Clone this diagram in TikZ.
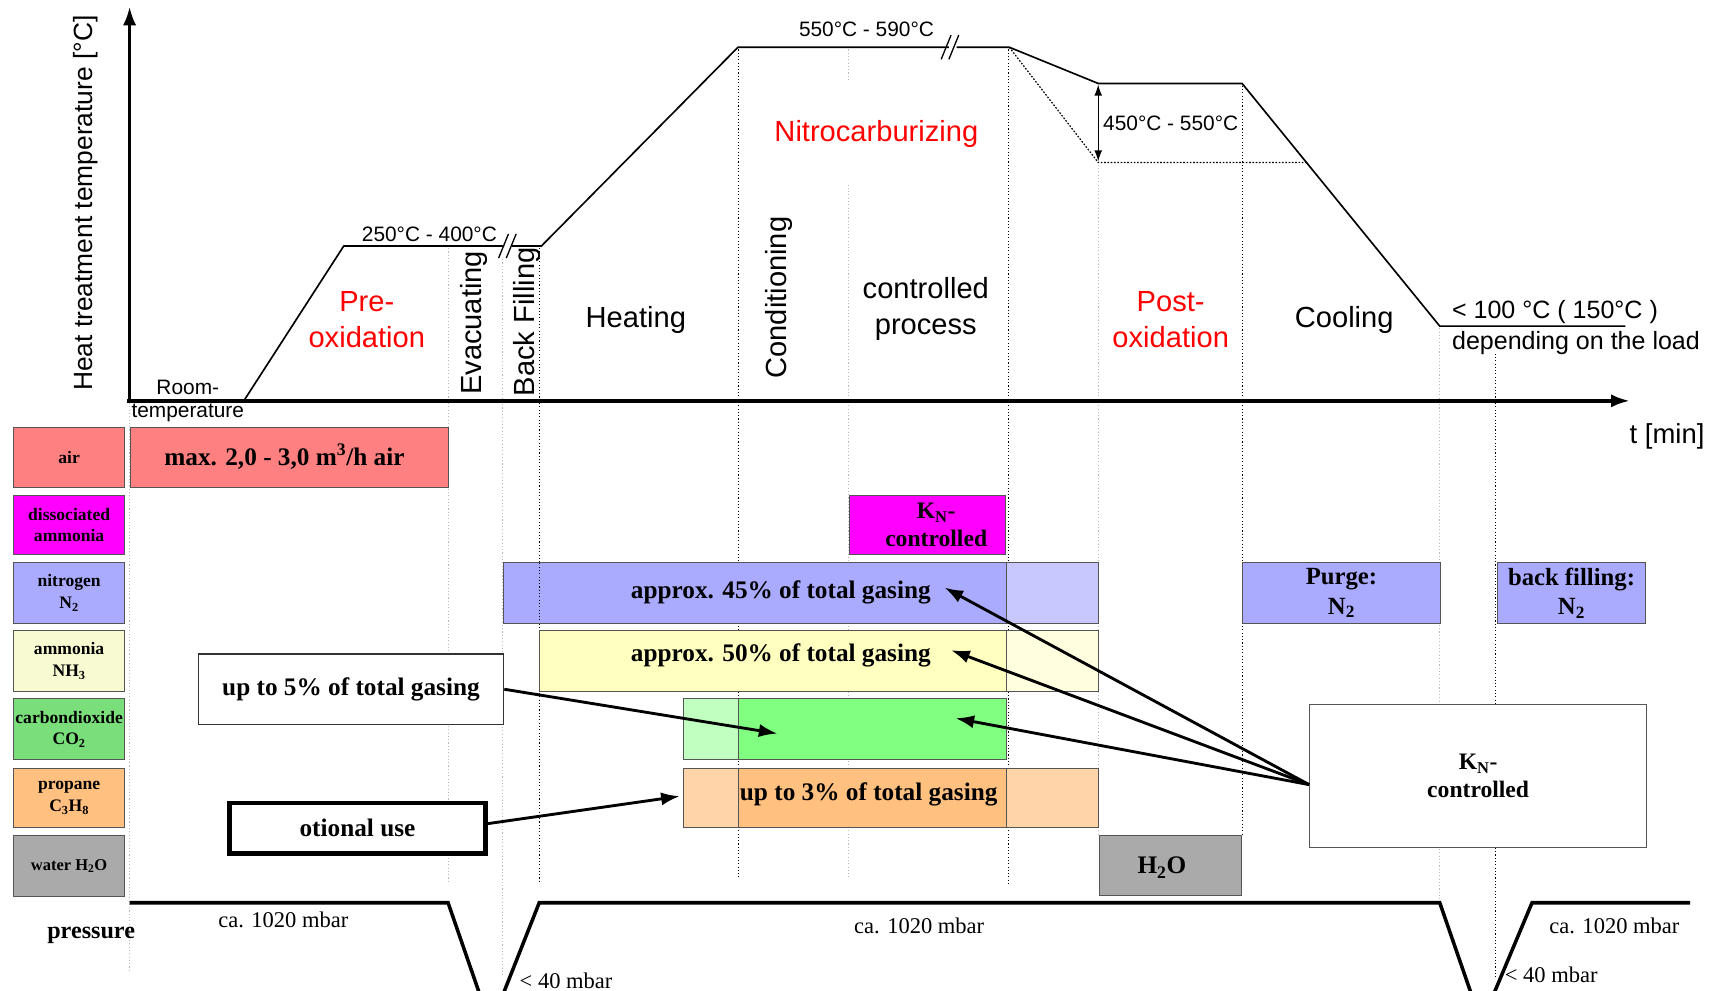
\documentclass[tikz,border=0pt]{standalone}
\usepackage{fontspec}
\setmainfont{Liberation Serif}
\newfontfamily\arialf{Liberation Sans}
\usetikzlibrary{arrows.meta}

\definecolor{airred}{RGB}{255,128,128}
\definecolor{magen}{RGB}{255,0,255}
\definecolor{nitro}{RGB}{170,170,255}
\definecolor{nitrolt}{RGB}{200,200,255}
\definecolor{ammlab}{RGB}{248,250,210}
\definecolor{amm}{RGB}{255,255,192}
\definecolor{ammlt}{RGB}{255,255,224}
\definecolor{co2lab}{RGB}{122,222,122}
\definecolor{co2}{RGB}{128,255,128}
\definecolor{co2lt}{RGB}{192,255,192}
\definecolor{prop}{RGB}{255,192,128}
\definecolor{proplt}{RGB}{255,212,168}
\definecolor{water}{RGB}{170,170,170}
\definecolor{edge}{RGB}{85,85,85}
\definecolor{phred}{RGB}{255,0,0}

\newcommand\fsz[2]{\fontsize{#1}{#2}\selectfont}

\begin{document}
\begin{tikzpicture}[x=1pt,y=-1pt,
  phase/.style={font=\arialf\fsz{26.5}{33}, align=center, inner sep=0pt},
  redphase/.style={phase, text=phred},
  templab/.style={font=\arialf\fsz{19}{23}, inner sep=0pt},
  gaslab/.style={font=\bfseries\fsz{16}{19.5}, align=center},
  bartext/.style={font=\bfseries\fsz{23}{27}, inner sep=0pt},
  tagtext/.style={font=\bfseries\fsz{21.5}{25}, align=center},
  gbox/.style={draw=edge, line width=0.9pt, inner sep=0pt, anchor=north west},
  darkdot/.style={black, line width=0.9pt, dash pattern=on 1pt off 2pt},
  lightdot/.style={gray!55, line width=0.9pt, dash pattern=on 1pt off 2pt},
  axisline/.style={line width=3pt, -{Latex[length=17pt,width=12pt]}},
  curve/.style={line width=1.5pt},
  press/.style={line width=3.2pt},
  pointer/.style={line width=2.6pt, -{Latex[length=17pt,width=12pt]}},
  mbar/.style={font=\fsz{20.5}{24}, inner sep=0pt}]

\clip (0,0) rectangle (1568,902);
\fill[white] (0,0) rectangle (1568,902);

% ---- phase boundaries
\draw[lightdot] (118,367) -- (118,885);
\draw[lightdot] (408,226) -- (408,805);
\draw[lightdot] (458,236) -- (458,890);
\draw[darkdot]  (491,226) -- (491,805);
\draw[darkdot]  (672,45)  -- (672,800);
\draw[lightdot] (773,45)  -- (773,75);
\draw[lightdot] (773,168) -- (773,800);
\draw[darkdot]  (918,45)  -- (918,805);
\draw[lightdot] (1000,150) -- (1000,760);
\draw[darkdot]  (1131,78) -- (1131,760);
\draw[lightdot] (1311,299) -- (1311,820);
\draw[darkdot]  (1362,322) -- (1362,890);

% ---- axes
\draw[axisline] (118,367) -- (118,6);
\draw[axisline] (116,365) -- (1484,365);
\node[font=\arialf\fsz{24}{28}, rotate=90, inner sep=0pt] (ylab) at (78,185) {Heat treatment temperature [°C]};
\node[font=\arialf\fsz{25}{29}, inner sep=0pt] (tlab) at (1518,397) {t [min]};

% ---- temperature profile
\draw[curve] (222,365) -- (313,224) -- (459,224);
\draw[curve] (466,224) -- (493,224) -- (672,43) -- (864,43);
\draw[curve] (871,43) -- (919,43) -- (1000,76) -- (1131,76) -- (1311,297) -- (1480,297);
\draw[line width=1.2pt] (454,235) -- (463,213) (461,235) -- (470,213);
\draw[line width=1.2pt] (857,54) -- (866,32) (864,54) -- (873,32);
\draw[line width=1.1pt, dash pattern=on 1.5pt off 1.5pt] (919,43) -- (1000,148) -- (1190,148);
\draw[line width=1pt, {Latex[length=10pt,width=7pt]}-{Latex[length=10pt,width=7pt]}] (1000,77) -- (1000,147);

\node[templab] (troom1) at (171,353) {Room-};
\node[templab] (troom2) at (171,376) {temperature};
\node[templab] (t250) at (391,213) {250°C - 400°C};
\node[templab] (t550) at (789,27) {550°C - 590°C};
\node[templab] (t450) at (1066,112) {450°C - 550°C};
\node[font=\arialf\fsz{22.8}{28}, inner sep=0pt, anchor=west] (t100) at (1322,284) {< 100 °C ( 150°C )};
\node[font=\arialf\fsz{22.8}{28}, inner sep=0pt, anchor=west] (tload) at (1322,312) {depending on the load};

% ---- phase names
\node[redphase] (nitro) at (798,122) {Nitrocarburizing};
\node[redphase] (preox) at (334,291) {Pre-\\oxidation};
\node[phase, rotate=90] (evac) at (432,294) {Evacuating};
\node[phase, rotate=90] (bfl) at (480,293) {Back Filling};
\node[phase] (heat) at (579,291) {Heating};
\node[phase, rotate=90] (cond) at (709,271) {Conditioning};
\node[phase] (ctrl) at (843,281) {controlled\\process};
\node[redphase] (postox) at (1066,291) {Post-\\oxidation};
\node[phase] (cool) at (1224,291) {Cooling};

% ---- gas legend
\node[gbox, fill=airred, minimum width=101, minimum height=54] (lair) at (12,389) {};
\node[gaslab] at (lair.center) {air};
\node[gbox, fill=magen, minimum width=101, minimum height=53] (ldis) at (12,451) {};
\node[gaslab] at (ldis.center) {dissociated\\ammonia};
\node[gbox, fill=nitro, minimum width=101, minimum height=55] (lnit) at (12,512) {};
\node[gaslab] at (lnit.center) {nitrogen\\N\textsubscript{2}};
\node[gbox, fill=ammlab, minimum width=101, minimum height=55] (lamm) at (12,574) {};
\node[gaslab] at (lamm.center) {ammonia\\NH\textsubscript{3}};
\node[gbox, fill=co2lab, minimum width=101, minimum height=55] (lco2) at (12,636) {};
\node[gaslab] at (lco2.center) {carbondioxide\\CO\textsubscript{2}};
\node[gbox, fill=prop, minimum width=101, minimum height=54] (lpro) at (12,699) {};
\node[gaslab] at (lpro.center) {propane\\C\textsubscript{3}H\textsubscript{8}};
\node[gbox, fill=water, minimum width=101, minimum height=56] (lwat) at (12,760) {};
\node[gaslab, font=\bfseries\fsz{15}{18}] at (lwat.center) {water H\textsubscript{2}O};

% ---- gas supply bars
\node[gbox, fill=airred, minimum width=290, minimum height=54] (airbar) at (118,389) {};
\node[bartext] at (259,416) {max. 2,0 - 3,0 m\textsuperscript{3}/h air};

\node[gbox, fill=magen, minimum width=142, minimum height=53] (knmag) at (773,451) {};
\node[tagtext] at ([xshift=8pt]knmag.center) {K\textsubscript{N}-\\controlled};

\node[gbox, fill=nitro, minimum width=458, minimum height=55] (nitA) at (458,512) {};
\node[gbox, fill=nitrolt, minimum width=84, minimum height=55] (nitB) at (916,512) {};
\draw[darkdot] (491,513) -- (491,566);
\node[bartext] (n45) at (711,539) {approx. 45\% of total gasing};

\node[gbox, fill=amm, minimum width=425, minimum height=55] (ammA) at (491,574) {};
\node[gbox, fill=ammlt, minimum width=84, minimum height=55] (ammB) at (916,574) {};
\node[bartext] (n50) at (711,597) {approx. 50\% of total gasing};

\node[gbox, fill=co2lt, minimum width=50, minimum height=55] (co2A) at (622,636) {};
\node[gbox, fill=co2, minimum width=244, minimum height=55] (co2B) at (672,636) {};

\node[gbox, fill=proplt, minimum width=50, minimum height=54] (proA) at (622,699) {};
\node[gbox, fill=prop, minimum width=244, minimum height=54] (proB) at (672,699) {};
\node[gbox, fill=proplt, minimum width=84, minimum height=54] (proC) at (916,699) {};
\node[bartext] (n3) at (791,723) {up to 3\% of total gasing};

\node[gbox, fill=water, minimum width=129, minimum height=55] (h2o) at (1001,760) {};
\node[bartext] at (1058,790) {H\textsubscript{2}O};

\node[gbox, fill=nitro, minimum width=180, minimum height=55] (purge) at (1131,512) {};
\node[tagtext, font=\bfseries\fsz{22.5}{27}] at (purge.center) {Purge:\\N\textsubscript{2}};
\node[gbox, fill=nitro, minimum width=135, minimum height=55] (bfill) at (1363,512) {};
\node[tagtext, font=\bfseries\fsz{22.5}{27}] at (bfill.center) {back filling:\\N\textsubscript{2}};

% ---- notes
\node[gbox, fill=white, draw=black!80, line width=1.2pt, minimum width=278, minimum height=64] (up5) at (180,595) {};
\node[bartext] at (up5.center) {up to 5\% of total gasing};
\node[gbox, fill=white, draw=black, line width=4pt, minimum width=233, minimum height=46] (opt) at (207,729) {};
\node[bartext] at (opt.center) {otional use};
\node[gbox, fill=white, minimum width=307, minimum height=130] (kn) at (1192,641) {};
\node[tagtext] at (kn.center) {K\textsubscript{N}-\\controlled};

% ---- pointers
\coordinate (pco2a) at (708,668);
\coordinate (ppro) at (619,725);
\coordinate (p45) at (860,535);
\coordinate (p50) at (866,592);
\coordinate (pco2b) at (870,654);
\coordinate (knport) at ([yshift=-8pt]kn.west);
\draw[pointer] (up5.east) -- (pco2a);
\draw[pointer] ([yshift=4pt]opt.east) -- (ppro);
\draw[pointer] (knport) -- (p45);
\draw[pointer] (knport) -- (p50);
\draw[pointer] (knport) -- (pco2b);

% ---- pressure
\draw[press] (118,822) -- (408,822) -- (436,903);
\draw[press] (459,903) -- (491,822) -- (1311,822) -- (1339,903);
\draw[press] (1361,903) -- (1395,822) -- (1539,822);
\node[font=\bfseries\fsz{22}{26}, inner sep=0pt] (plab) at (83,852) {pressure};
\node[mbar] (p1) at (258,838) {ca. 1020 mbar};
\node[mbar] (p2) at (837,843) {ca. 1020 mbar};
\node[mbar] (p3) at (1470,843) {ca. 1020 mbar};
\node[mbar, anchor=base west] (p4) at (473,900) {< 40 mbar};
\node[mbar, anchor=base west] (p5) at (1370,895) {< 40 mbar};
\end{tikzpicture}
\end{document}
